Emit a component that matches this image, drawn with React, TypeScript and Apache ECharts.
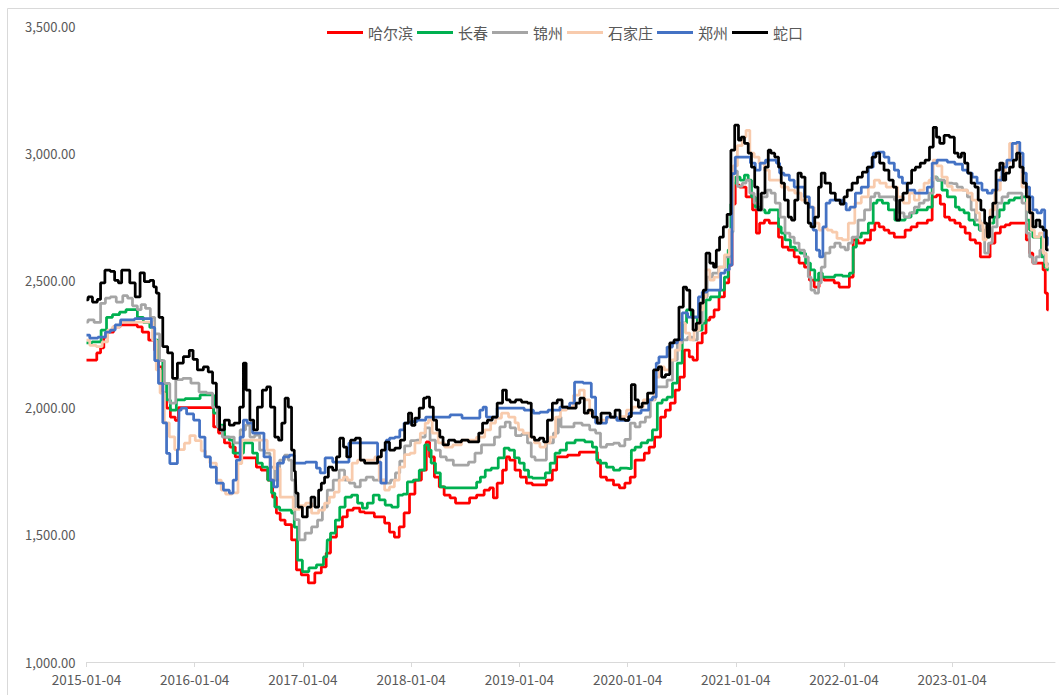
import { useEffect, useRef } from "react";
import * as echarts from "echarts";

// x values are decimal years (2015.00 = 2015-01-04), y values in yuan/ton
const seriesNames = ["哈尔滨", "长春", "锦州", "石家庄", "郑州", "蛇口"];
const seriesColors = ["#FF0000", "#00B050", "#A5A5A5", "#F8CBAD", "#4472C4", "#000000"];
const xTickYears = [2015, 2016, 2017, 2018, 2019, 2020, 2021, 2022, 2023];

const harbin: [number, number][] = [
  [2015.00,2187],[2015.08,2187],[2015.11,2215],[2015.15,2235],[2015.17,2277],[2015.22,2297],[2015.28,2317],[2015.34,2325],[2015.45,2325],[2015.49,2317],[2015.54,2297],[2015.61,2265],[2015.65,2225],[2015.68,2160],[2015.73,2057],[2015.75,1998],[2015.80,1963],[2015.84,1950],[2015.86,2000],[2016.16,2000],[2016.19,1924],[2016.25,1900],[2016.30,1861],[2016.35,1845],[2016.40,1806],[2016.45,1802],[2016.56,1802],[2016.58,1766],[2016.65,1754],[2016.70,1715],[2016.74,1648],[2016.77,1585],[2016.81,1558],[2016.86,1540],[2016.93,1480],[2016.95,1362],[2017.02,1342],[2017.08,1311],[2017.14,1350],[2017.20,1374],[2017.23,1428],[2017.28,1491],[2017.34,1531],[2017.39,1570],[2017.43,1597],[2017.50,1605],[2017.55,1590],[2017.59,1586],[2017.73,1570],[2017.78,1546],[2017.82,1511],[2017.87,1491],[2017.91,1531],[2017.96,1586],[2018.01,1660],[2018.06,1715],[2018.13,1754],[2018.15,1865],[2018.19,1806],[2018.24,1727],[2018.28,1688],[2018.33,1656],[2018.39,1645],[2018.43,1625],[2018.52,1625],[2018.56,1645],[2018.65,1656],[2018.70,1676],[2018.75,1684],[2018.77,1645],[2018.82,1703],[2018.87,1754],[2018.89,1806],[2018.93,1794],[2018.99,1754],[2019.03,1727],[2019.10,1703],[2019.14,1696],[2019.22,1696],[2019.28,1715],[2019.33,1754],[2019.36,1806],[2019.53,1813],[2019.58,1825],[2019.72,1825],[2019.73,1782],[2019.77,1727],[2019.84,1715],[2019.90,1696],[2019.95,1684],[2020.00,1703],[2020.05,1727],[2020.09,1794],[2020.13,1794],[2020.18,1821],[2020.22,1845],[2020.28,1884],[2020.33,1963],[2020.37,1990],[2020.42,2018],[2020.46,2069],[2020.50,2120],[2020.55,2226],[2020.59,2199],[2020.62,2187],[2020.67,2254],[2020.71,2293],[2020.74,2344],[2020.78,2356],[2020.82,2384],[2020.87,2435],[2020.92,2490],[2020.95,2560],[2020.98,2800],[2021.01,2875],[2021.06,2867],[2021.13,2828],[2021.18,2777],[2021.20,2686],[2021.24,2725],[2021.29,2737],[2021.33,2725],[2021.38,2725],[2021.41,2670],[2021.45,2631],[2021.52,2619],[2021.56,2592],[2021.61,2568],[2021.66,2552],[2021.70,2501],[2021.75,2474],[2021.79,2513],[2021.84,2501],[2021.89,2501],[2021.93,2490],[2021.98,2474],[2022.03,2474],[2022.07,2513],[2022.10,2659],[2022.16,2647],[2022.22,2659],[2022.27,2698],[2022.30,2725],[2022.35,2710],[2022.39,2698],[2022.44,2686],[2022.49,2670],[2022.54,2670],[2022.59,2698],[2022.65,2710],[2022.70,2725],[2022.75,2725],[2022.79,2737],[2022.84,2828],[2022.87,2835],[2022.91,2800],[2022.95,2749],[2023.00,2737],[2023.05,2725],[2023.10,2710],[2023.14,2686],[2023.19,2659],[2023.24,2647],[2023.28,2592],[2023.33,2592],[2023.37,2647],[2023.42,2686],[2023.47,2710],[2023.51,2718],[2023.56,2725],[2023.67,2725],[2023.70,2659],[2023.73,2607],[2023.76,2568],[2023.83,2568],[2023.85,2541],[2023.87,2450],[2023.89,2384]
];

const changchun: [number, number][] = [
  [2015.00,2254],[2015.10,2258],[2015.17,2305],[2015.20,2355],[2015.28,2365],[2015.33,2375],[2015.40,2385],[2015.45,2385],[2015.49,2355],[2015.56,2335],[2015.61,2315],[2015.65,2265],[2015.68,2185],[2015.73,2095],[2015.75,2030],[2015.80,1990],[2015.86,2030],[2015.96,2035],[2016.14,2050],[2016.21,1978],[2016.25,1931],[2016.30,1884],[2016.34,1872],[2016.37,1821],[2016.45,1821],[2016.46,1861],[2016.51,1861],[2016.56,1821],[2016.60,1782],[2016.65,1766],[2016.70,1715],[2016.72,1664],[2016.76,1609],[2016.81,1597],[2016.88,1597],[2016.91,1585],[2016.93,1530],[2016.97,1400],[2017.02,1355],[2017.09,1370],[2017.16,1382],[2017.22,1413],[2017.23,1480],[2017.28,1507],[2017.32,1558],[2017.36,1609],[2017.42,1648],[2017.48,1656],[2017.53,1625],[2017.57,1605],[2017.62,1625],[2017.68,1656],[2017.73,1637],[2017.79,1617],[2017.85,1609],[2017.91,1656],[2017.94,1660],[2017.99,1708],[2018.05,1715],[2018.10,1754],[2018.15,1853],[2018.17,1833],[2018.20,1782],[2018.25,1743],[2018.29,1688],[2018.34,1684],[2018.59,1684],[2018.62,1707],[2018.66,1727],[2018.71,1754],[2018.77,1762],[2018.84,1802],[2018.88,1841],[2018.93,1833],[2018.98,1802],[2019.02,1782],[2019.07,1754],[2019.10,1727],[2019.14,1723],[2019.22,1723],[2019.26,1743],[2019.31,1782],[2019.35,1821],[2019.40,1833],[2019.47,1861],[2019.56,1872],[2019.65,1865],[2019.70,1845],[2019.73,1794],[2019.77,1782],[2019.84,1766],[2019.90,1754],[2019.96,1762],[2020.02,1760],[2020.05,1833],[2020.09,1845],[2020.16,1861],[2020.21,1872],[2020.25,1912],[2020.30,2018],[2020.34,2030],[2020.39,2041],[2020.44,2096],[2020.48,2175],[2020.53,2332],[2020.56,2384],[2020.62,2356],[2020.67,2305],[2020.71,2332],[2020.74,2423],[2020.79,2435],[2020.83,2435],[2020.87,2462],[2020.92,2513],[2020.94,2620],[2020.97,2800],[2020.98,2882],[2021.02,2906],[2021.06,2894],[2021.10,2914],[2021.13,2894],[2021.16,2828],[2021.20,2788],[2021.25,2777],[2021.29,2765],[2021.33,2777],[2021.38,2777],[2021.41,2710],[2021.43,2686],[2021.48,2659],[2021.53,2631],[2021.57,2619],[2021.62,2607],[2021.67,2568],[2021.71,2541],[2021.75,2501],[2021.78,2529],[2021.82,2513],[2021.89,2513],[2021.94,2521],[2022.03,2517],[2022.07,2529],[2022.10,2631],[2022.13,2670],[2022.19,2686],[2022.26,2725],[2022.28,2804],[2022.33,2816],[2022.38,2804],[2022.44,2777],[2022.50,2737],[2022.54,2737],[2022.59,2749],[2022.65,2765],[2022.70,2777],[2022.75,2777],[2022.79,2788],[2022.84,2906],[2022.88,2894],[2022.93,2855],[2022.98,2828],[2023.02,2828],[2023.04,2788],[2023.09,2777],[2023.13,2765],[2023.18,2737],[2023.23,2718],[2023.27,2698],[2023.32,2670],[2023.36,2725],[2023.41,2749],[2023.46,2777],[2023.50,2804],[2023.55,2816],[2023.60,2824],[2023.67,2828],[2023.70,2737],[2023.73,2698],[2023.76,2670],[2023.81,2670],[2023.84,2592],[2023.87,2552],[2023.89,2541]
];

const jinzhou: [number, number][] = [
  [2015.00,2336],[2015.03,2345],[2015.11,2335],[2015.15,2410],[2015.20,2430],[2015.24,2435],[2015.31,2415],[2015.36,2440],[2015.40,2430],[2015.45,2400],[2015.49,2385],[2015.52,2405],[2015.57,2390],[2015.61,2355],[2015.65,2290],[2015.70,2185],[2015.74,2095],[2015.80,2018],[2015.85,2110],[2015.93,2115],[2016.00,2096],[2016.08,2061],[2016.14,2057],[2016.19,2002],[2016.23,1924],[2016.28,1884],[2016.34,1884],[2016.39,1861],[2016.45,1912],[2016.49,1931],[2016.53,1884],[2016.58,1892],[2016.62,1833],[2016.67,1821],[2016.72,1766],[2016.76,1715],[2016.81,1794],[2016.85,1813],[2016.88,1794],[2016.91,1715],[2016.94,1560],[2016.99,1480],[2017.05,1507],[2017.11,1531],[2017.16,1558],[2017.20,1609],[2017.25,1676],[2017.31,1715],[2017.36,1754],[2017.41,1715],[2017.45,1703],[2017.51,1688],[2017.55,1715],[2017.62,1727],[2017.68,1715],[2017.74,1715],[2017.79,1703],[2017.83,1715],[2017.88,1743],[2017.91,1790],[2017.97,1850],[2018.02,1870],[2018.06,1872],[2018.11,1884],[2018.15,1920],[2018.20,1872],[2018.25,1833],[2018.29,1806],[2018.36,1794],[2018.42,1774],[2018.50,1774],[2018.56,1786],[2018.62,1821],[2018.68,1853],[2018.75,1853],[2018.79,1884],[2018.85,1924],[2018.89,1943],[2018.94,1920],[2018.99,1890],[2019.05,1895],[2019.10,1861],[2019.12,1806],[2019.17,1794],[2019.22,1794],[2019.28,1861],[2019.35,1900],[2019.37,1963],[2019.40,1924],[2019.47,1924],[2019.54,1939],[2019.62,1931],[2019.68,1912],[2019.73,1900],[2019.77,1845],[2019.84,1855],[2019.90,1860],[2019.95,1850],[2020.00,1875],[2020.05,1939],[2020.09,1924],[2020.14,1943],[2020.19,1963],[2020.23,2030],[2020.28,2081],[2020.34,2081],[2020.39,2108],[2020.44,2187],[2020.48,2254],[2020.53,2266],[2020.58,2277],[2020.62,2266],[2020.67,2332],[2020.71,2435],[2020.76,2513],[2020.81,2529],[2020.87,2552],[2020.93,2592],[2020.96,2690],[2020.99,2930],[2021.04,2870],[2021.08,2882],[2021.11,2894],[2021.15,2843],[2021.19,2804],[2021.22,2777],[2021.27,2828],[2021.31,2855],[2021.34,2843],[2021.39,2804],[2021.43,2749],[2021.48,2686],[2021.52,2670],[2021.56,2647],[2021.61,2619],[2021.66,2592],[2021.68,2513],[2021.71,2462],[2021.75,2450],[2021.78,2490],[2021.80,2552],[2021.85,2607],[2021.89,2631],[2021.94,2647],[2021.99,2631],[2022.03,2620],[2022.05,2647],[2022.10,2670],[2022.16,2737],[2022.22,2777],[2022.27,2828],[2022.30,2843],[2022.35,2828],[2022.44,2828],[2022.49,2816],[2022.53,2765],[2022.58,2749],[2022.63,2765],[2022.67,2788],[2022.72,2804],[2022.76,2816],[2022.81,2843],[2022.84,2906],[2022.88,2894],[2022.98,2882],[2023.02,2880],[2023.07,2867],[2023.12,2855],[2023.16,2828],[2023.19,2777],[2023.24,2737],[2023.28,2698],[2023.32,2607],[2023.35,2647],[2023.39,2710],[2023.44,2804],[2023.48,2828],[2023.55,2843],[2023.62,2843],[2023.67,2804],[2023.70,2686],[2023.73,2592],[2023.76,2568],[2023.79,2592],[2023.83,2619],[2023.85,2607],[2023.87,2568],[2023.89,2560]
];

const shijiazhuang: [number, number][] = [
  [2015.00,2265],[2015.06,2245],[2015.12,2240],[2015.17,2258],[2015.22,2305],[2015.26,2317],[2015.36,2336],[2015.59,2336],[2015.63,2265],[2015.66,2148],[2015.70,2057],[2015.74,1940],[2015.79,1885],[2015.84,1835],[2015.88,1835],[2015.93,1860],[2015.98,1890],[2016.03,1870],[2016.09,1830],[2016.11,1806],[2016.17,1782],[2016.23,1715],[2016.26,1676],[2016.31,1660],[2016.38,1665],[2016.42,1780],[2016.45,1872],[2016.54,1872],[2016.63,1872],[2016.71,1833],[2016.76,1760],[2016.82,1648],[2016.88,1648],[2016.94,1600],[2017.00,1615],[2017.05,1625],[2017.11,1585],[2017.18,1597],[2017.22,1625],[2017.27,1648],[2017.31,1668],[2017.36,1715],[2017.39,1727],[2017.43,1715],[2017.48,1782],[2017.53,1794],[2017.65,1794],[2017.68,1806],[2017.73,1715],[2017.78,1676],[2017.82,1688],[2017.87,1715],[2017.91,1766],[2017.97,1815],[2018.01,1821],[2018.06,1861],[2018.11,1900],[2018.15,1939],[2018.17,1951],[2018.22,1900],[2018.28,1861],[2018.34,1845],[2018.43,1853],[2018.50,1872],[2018.56,1872],[2018.65,1884],[2018.71,1912],[2018.76,1939],[2018.80,1959],[2018.87,1978],[2018.93,1963],[2018.99,1940],[2019.00,1912],[2019.07,1900],[2019.12,1884],[2019.16,1861],[2019.22,1845],[2019.26,1861],[2019.31,1884],[2019.36,1963],[2019.40,1990],[2019.47,2002],[2019.53,2049],[2019.58,2069],[2019.62,2030],[2019.68,1978],[2019.73,1951],[2019.79,1951],[2019.84,1963],[2019.90,1960],[2019.96,1965],[2020.02,1990],[2020.07,2002],[2020.22,2030],[2020.27,2120],[2020.32,2160],[2020.36,2148],[2020.42,2187],[2020.46,2226],[2020.51,2332],[2020.56,2293],[2020.59,2266],[2020.64,2305],[2020.69,2384],[2020.71,2435],[2020.74,2541],[2020.78,2501],[2020.82,2513],[2020.87,2552],[2020.92,2600],[2020.96,2700],[2020.99,2950],[2021.04,3030],[2021.08,3063],[2021.11,3090],[2021.15,3000],[2021.19,2985],[2021.24,2961],[2021.29,2933],[2021.33,2894],[2021.39,2894],[2021.45,2867],[2021.52,2855],[2021.57,2843],[2021.64,2816],[2021.70,2788],[2021.75,2725],[2021.79,2698],[2021.82,2706],[2021.87,2698],[2021.91,2690],[2021.96,2665],[2022.01,2659],[2022.07,2725],[2022.13,2804],[2022.19,2828],[2022.26,2867],[2022.30,2894],[2022.36,2882],[2022.42,2867],[2022.47,2867],[2022.52,2828],[2022.58,2804],[2022.63,2843],[2022.67,2816],[2022.72,2855],[2022.76,2882],[2022.81,2894],[2022.84,2973],[2022.88,2950],[2022.93,2906],[2022.98,2870],[2023.02,2855],[2023.12,2855],[2023.16,2843],[2023.21,2816],[2023.24,2765],[2023.27,2725],[2023.30,2659],[2023.33,2710],[2023.37,2777],[2023.42,2855],[2023.47,2906],[2023.51,2961],[2023.55,3039],[2023.58,3039],[2023.62,2985],[2023.67,2867],[2023.72,2777],[2023.74,2698],[2023.78,2670],[2023.83,2686],[2023.85,2607],[2023.89,2552]
];

const zhengzhou: [number, number][] = [
  [2015.00,2285],[2015.06,2273],[2015.15,2277],[2015.20,2297],[2015.24,2305],[2015.29,2325],[2015.34,2345],[2015.40,2345],[2015.49,2350],[2015.59,2350],[2015.61,2315],[2015.65,2185],[2015.68,2095],[2015.73,1940],[2015.75,1820],[2015.79,1780],[2015.83,1780],[2015.85,1835],[2015.86,1990],[2015.89,1998],[2015.96,1975],[2016.02,1951],[2016.07,1884],[2016.12,1806],[2016.17,1766],[2016.23,1703],[2016.30,1676],[2016.34,1664],[2016.37,1715],[2016.40,1794],[2016.44,1884],[2016.46,1951],[2016.51,1939],[2016.56,1900],[2016.60,1900],[2016.68,1806],[2016.72,1715],[2016.74,1688],[2016.79,1782],[2016.85,1806],[2016.90,1813],[2016.94,1782],[2017.11,1786],[2017.14,1762],[2017.18,1743],[2017.23,1802],[2017.32,1786],[2017.39,1786],[2017.46,1861],[2017.67,1861],[2017.71,1786],[2017.73,1703],[2017.76,1703],[2017.78,1872],[2017.82,1880],[2017.88,1884],[2017.91,1912],[2017.96,1939],[2018.03,1945],[2018.08,1951],[2018.19,1963],[2018.34,1963],[2018.38,1971],[2018.56,1959],[2018.62,1959],[2018.65,1990],[2018.68,2002],[2018.71,1963],[2018.77,1963],[2018.82,1998],[2018.99,1998],[2019.10,1990],[2019.16,1978],[2019.22,1982],[2019.31,1990],[2019.44,2002],[2019.49,2018],[2019.53,2100],[2019.65,2096],[2019.68,2041],[2019.73,1939],[2019.77,1939],[2019.84,1963],[2019.96,1950],[2020.07,1978],[2020.18,1990],[2020.21,2030],[2020.25,2041],[2020.28,2175],[2020.30,2199],[2020.34,2199],[2020.39,2238],[2020.44,2254],[2020.48,2266],[2020.53,2372],[2020.58,2356],[2020.64,2356],[2020.67,2435],[2020.71,2454],[2020.76,2462],[2020.85,2462],[2020.87,2529],[2020.93,2541],[2020.95,2560],[2020.98,2920],[2021.01,2985],[2021.11,2985],[2021.16,2961],[2021.20,2933],[2021.25,2961],[2021.30,2973],[2021.36,2973],[2021.39,2961],[2021.42,2922],[2021.47,2914],[2021.52,2894],[2021.56,2867],[2021.61,2867],[2021.66,2828],[2021.70,2788],[2021.73,2698],[2021.76,2619],[2021.79,2592],[2021.82,2710],[2021.85,2804],[2021.89,2816],[2021.96,2816],[2022.01,2804],[2022.03,2777],[2022.08,2788],[2022.13,2843],[2022.19,2867],[2022.26,2945],[2022.28,3000],[2022.35,3004],[2022.39,2985],[2022.44,2961],[2022.49,2933],[2022.52,2906],[2022.56,2882],[2022.61,2855],[2022.70,2843],[2022.75,2843],[2022.79,2867],[2022.84,2961],[2022.88,2973],[2022.93,2973],[2022.98,2965],[2023.07,2957],[2023.12,2933],[2023.16,2922],[2023.21,2906],[2023.25,2882],[2023.30,2855],[2023.35,2843],[2023.39,2855],[2023.44,2894],[2023.48,2945],[2023.53,2973],[2023.58,3039],[2023.61,3043],[2023.64,3000],[2023.67,2922],[2023.70,2867],[2023.73,2828],[2023.76,2777],[2023.81,2765],[2023.84,2777],[2023.87,2670],[2023.89,2640]
];

const shekou: [number, number][] = [
  [2015.00,2423],[2015.03,2435],[2015.08,2415],[2015.12,2425],[2015.14,2490],[2015.20,2540],[2015.24,2535],[2015.28,2500],[2015.31,2490],[2015.34,2540],[2015.38,2540],[2015.42,2490],[2015.48,2435],[2015.51,2530],[2015.56,2495],[2015.61,2500],[2015.63,2475],[2015.66,2450],[2015.68,2355],[2015.73,2240],[2015.77,2215],[2015.82,2115],[2015.86,2175],[2015.93,2200],[2015.97,2225],[2016.00,2190],[2016.05,2148],[2016.11,2160],[2016.14,2140],[2016.19,2096],[2016.21,2002],[2016.25,1912],[2016.30,1951],[2016.34,1931],[2016.39,1939],[2016.44,2002],[2016.46,2175],[2016.49,2069],[2016.53,1951],[2016.56,1912],[2016.60,2002],[2016.65,2069],[2016.68,2081],[2016.72,2002],[2016.76,1884],[2016.79,1872],[2016.82,1939],[2016.85,2037],[2016.88,2002],[2016.91,1833],[2016.93,1750],[2016.94,1664],[2016.97,1609],[2017.02,1570],[2017.06,1609],[2017.09,1648],[2017.13,1609],[2017.16,1676],[2017.18,1703],[2017.22,1727],[2017.25,1766],[2017.30,1754],[2017.32,1806],[2017.36,1880],[2017.39,1845],[2017.42,1806],[2017.46,1872],[2017.51,1880],[2017.55,1794],[2017.59,1782],[2017.67,1782],[2017.71,1806],[2017.74,1833],[2017.78,1864],[2017.82,1833],[2017.88,1841],[2017.92,1872],[2017.96,1939],[2017.99,1978],[2018.02,1930],[2018.05,1959],[2018.10,1998],[2018.13,2037],[2018.15,2041],[2018.19,2002],[2018.22,1951],[2018.25,1912],[2018.28,1884],[2018.31,1853],[2018.38,1872],[2018.43,1865],[2018.50,1872],[2018.56,1865],[2018.61,1865],[2018.64,1900],[2018.68,1939],[2018.73,1951],[2018.77,1963],[2018.82,2018],[2018.87,2069],[2018.89,2030],[2018.94,2022],[2018.99,2030],[2019.05,2022],[2019.10,2018],[2019.12,1884],[2019.16,1872],[2019.21,1880],[2019.24,1865],[2019.28,1951],[2019.33,2018],[2019.37,2030],[2019.42,2002],[2019.47,1998],[2019.51,1998],[2019.54,2018],[2019.58,2037],[2019.62,1978],[2019.65,1990],[2019.70,1963],[2019.74,1939],[2019.77,1978],[2019.82,1978],[2019.86,1963],[2019.91,1990],[2019.95,1955],[2020.00,1950],[2020.02,1965],[2020.05,2090],[2020.09,2030],[2020.11,2002],[2020.16,2018],[2020.21,2057],[2020.27,2148],[2020.30,2160],[2020.33,2120],[2020.37,2130],[2020.41,2254],[2020.45,2266],[2020.50,2395],[2020.53,2474],[2020.56,2462],[2020.59,2384],[2020.62,2305],[2020.65,2332],[2020.69,2411],[2020.71,2462],[2020.74,2607],[2020.78,2568],[2020.81,2552],[2020.83,2619],[2020.87,2670],[2020.90,2710],[2020.94,2760],[2020.97,3012],[2021.01,3110],[2021.04,3051],[2021.06,3063],[2021.10,3039],[2021.13,3000],[2021.16,2945],[2021.19,2867],[2021.22,2777],[2021.25,2843],[2021.29,2945],[2021.31,3012],[2021.34,3000],[2021.38,2985],[2021.41,2945],[2021.43,2882],[2021.47,2816],[2021.50,2749],[2021.53,2737],[2021.56,2816],[2021.59,2922],[2021.62,2906],[2021.66,2804],[2021.68,2725],[2021.71,2710],[2021.75,2749],[2021.78,2867],[2021.80,2922],[2021.85,2882],[2021.90,2843],[2021.94,2816],[2021.99,2800],[2022.01,2828],[2022.05,2855],[2022.10,2882],[2022.15,2906],[2022.19,2926],[2022.24,2945],[2022.28,2985],[2022.31,3000],[2022.35,2961],[2022.39,2933],[2022.44,2894],[2022.47,2867],[2022.50,2737],[2022.53,2816],[2022.56,2843],[2022.61,2882],[2022.64,2933],[2022.68,2945],[2022.73,2961],[2022.77,2973],[2022.81,3024],[2022.84,3102],[2022.87,3063],[2022.90,3039],[2022.95,3070],[2023.00,3063],[2023.04,3000],[2023.07,2985],[2023.10,3000],[2023.13,2961],[2023.16,2922],[2023.19,2882],[2023.23,2867],[2023.25,2816],[2023.28,2777],[2023.32,2725],[2023.33,2670],[2023.36,2749],[2023.39,2804],[2023.42,2933],[2023.46,2961],[2023.48,2894],[2023.51,2922],[2023.55,2945],[2023.58,2973],[2023.61,3000],[2023.64,2945],[2023.67,2882],[2023.70,2828],[2023.73,2765],[2023.76,2710],[2023.79,2737],[2023.83,2710],[2023.85,2698],[2023.89,2620]
];

const seriesData = [harbin, changchun, jinzhou, shijiazhuang, zhengzhou, shekou];

const FONT = "'Noto Sans CJK SC', 'Noto Sans', sans-serif";

export default function App() {
  const ref = useRef<HTMLDivElement>(null);

  useEffect(() => {
    if (!ref.current) return;
    const chart = echarts.init(ref.current, null, { renderer: "svg" });
    chart.setOption({
      animation: false,
      backgroundColor: "#ffffff",
      textStyle: { fontFamily: FONT },
      graphic: [
        {
          type: "rect",
          silent: true,
          z: -10,
          shape: { x: 7.5, y: 8.5, width: 1080, height: 720 },
          style: { fill: "none", stroke: "#D9D9D9", lineWidth: 1 },
        },
      ],
      legend: {
        top: 20,
        left: 322,
        icon: "rect",
        itemWidth: 36,
        itemHeight: 3,
        itemGap: 4,
        textStyle: { fontSize: 15, color: "#595959", fontFamily: FONT },
        data: seriesNames,
      },
      grid: { left: 86.5, right: 4, top: 26, bottom: 33, containLabel: false },
      xAxis: {
        type: "value",
        min: 2015,
        max: 2023.95,
        interval: 1,
        axisLine: { show: true, lineStyle: { color: "#D9D9D9", width: 1 } },
        axisTick: {
          show: true,
          length: 5,
          customValues: xTickYears,
          lineStyle: { color: "#D9D9D9" },
        },
        axisLabel: {
          customValues: xTickYears,
          color: "#595959",
          fontSize: 13.5,
          margin: 10,
          fontFamily: FONT,
          formatter: (v: number) => (Number.isInteger(v) ? `${v}-01-04` : ""),
        },
        splitLine: { show: false },
      },
      yAxis: {
        type: "value",
        min: 1000,
        max: 3500,
        interval: 500,
        axisLine: { show: false },
        axisTick: { show: false },
        splitLine: { show: false },
        axisLabel: {
          color: "#595959",
          fontSize: 13,
          margin: 11,
          fontFamily: FONT,
          formatter: (v: number) =>
            v.toLocaleString("en-US", { minimumFractionDigits: 2, maximumFractionDigits: 2 }),
        },
      },
      series: seriesNames.map((name, i) => ({
        name,
        type: "line",
        data: seriesData[i],
        showSymbol: false,
        symbol: "none",
        smooth: false,
        step: "middle",
        lineStyle: { color: seriesColors[i], width: 2.75 },
        itemStyle: { color: seriesColors[i] },
        emphasis: { disabled: true },
        z: 2 + i,
      })),
    });
    return () => chart.dispose();
  }, []);

  return (
    <div
      ref={ref}
      style={{ position: "absolute", left: 0, top: 0, width: 1059, height: 695, background: "#fff" }}
    />
  );
}
